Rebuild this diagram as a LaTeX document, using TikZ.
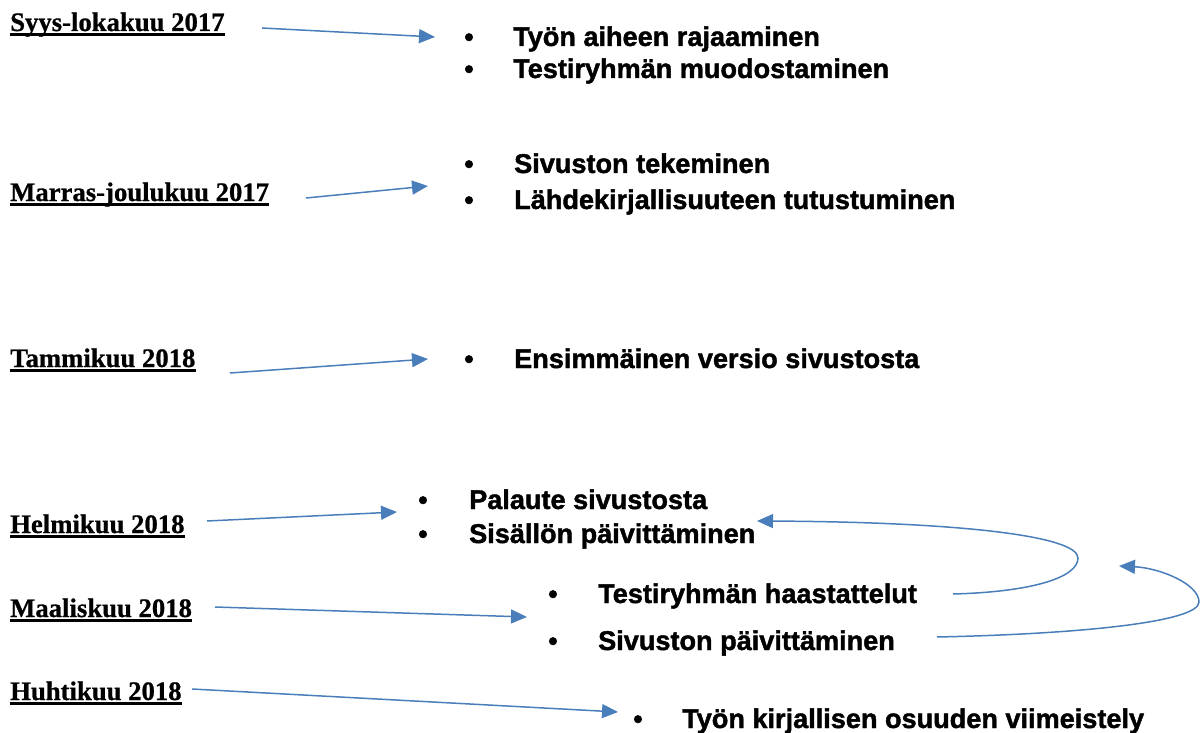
\documentclass[tikz,border=0pt]{standalone}
\usepackage{fontspec}
\setmainfont{Liberation Serif}[BoldFeatures={FakeBold=0.8}]
\newfontfamily\itemfont{Liberation Sans}[BoldFeatures={FakeBold=1.5}]
\usetikzlibrary{arrows.meta}
\definecolor{arrowblue}{HTML}{4A7EBB}
\begin{document}
\begin{tikzpicture}[x=1pt,y=-1pt,
  month/.style={inner sep=0pt, anchor=base west, font=\fontsize{26.7}{30}\selectfont\bfseries},
  item/.style={inner sep=0pt, anchor=base west, font=\fontsize{27.1}{30}\selectfont\itemfont\bfseries},
  dot/.style={inner sep=0pt, anchor=base, font=\fontsize{26.7}{30}\selectfont\itemfont\bfseries},
  link/.style={draw=arrowblue, line width=1.5pt, -{Triangle[length=16pt,width=14pt]}},
  uline/.style={line width=2.6pt}]
\useasboundingbox (0,0) rectangle (1203,733);

% month labels
\node[month] (m1) at (10,31) {Syys-lokakuu 2017};
\node[month] (m2) at (10,201) {Marras-joulukuu 2017};
\node[month] (m3) at (10,367) {Tammikuu 2018};
\node[month] (m4) at (10,533) {Helmikuu 2018};
\node[month] (m5) at (10,617) {Maaliskuu 2018};
\node[month] (m6) at (10,700) {Huhtikuu 2018};
\foreach \m in {m1,m2,m3,m4,m5,m6}
  \draw[uline] ([yshift=-3.5pt]\m.base west) -- ([yshift=-3.5pt]\m.base east);

% items
\node[dot] (b1a) at (469,46) {•};
\node[item] (i1a) at (513,46) {Työn aiheen rajaaminen};
\node[dot] (b1b) at (469,78) {•};
\node[item] (i1b) at (513,78) {Testiryhmän muodostaminen};

\node[dot] (b2a) at (469,173) {•};
\node[item] (i2a) at (514,173) {Sivuston tekeminen};
\node[dot] (b2b) at (469,209) {•};
\node[item] (i2b) at (514,209) {Lähdekirjallisuuteen tutustuminen};

\node[dot] (b3a) at (469,368) {•};
\node[item] (i3a) at (514,368) {Ensimmäinen versio sivustosta};

\node[dot] (b4a) at (423,509) {•};
\node[item] (i4a) at (469,509) {Palaute sivustosta};
\node[dot] (b4b) at (423,543) {•};
\node[item] (i4b) at (469,543) {Sisällön päivittäminen};

\node[dot] (b5a) at (553,603) {•};
\node[item] (i5a) at (598,603) {Testiryhmän haastattelut};
\node[dot] (b5b) at (553,650) {•};
\node[item] (i5b) at (598,650) {Sivuston päivittäminen};

\node[dot] (b6a) at (638,728) {•};
\node[item] (i6a) at (682,728) {Työn kirjallisen osuuden viimeistely};

% arrow end points
\coordinate (s1) at (262,28);  \coordinate (t1) at (435,37);
\coordinate (s2) at (306,198); \coordinate (t2) at (428,186);
\coordinate (s3) at (230,373); \coordinate (t3) at (428,359);
\coordinate (s4) at (207,521); \coordinate (t4) at (397,512);
\coordinate (s5) at (215,607); \coordinate (t5) at (527,617);
\coordinate (s6) at (192,689); \coordinate (t6) at (618,712);
\coordinate (l1s) at (953,594); \coordinate (l1m) at (1078,558); \coordinate (l1t) at (757,521);
\coordinate (l2s) at (937,637); \coordinate (l2m) at (1199,602); \coordinate (l2t) at (1119,566);

\draw[link] (s1) -- (t1);
\draw[link] (s2) -- (t2);
\draw[link] (s3) -- (t3);
\draw[link] (s4) -- (t4);
\draw[link] (s5) -- (t5);
\draw[link] (s6) -- (t6);

\draw[link] (l1s) .. controls (1030,592) and (1078,578) .. (l1m)
  .. controls (1078,536) and (960,522) .. (l1t);
\draw[link] (l2s) .. controls (1080,634) and (1199,622) .. (l2m)
  .. controls (1199,584) and (1160,568) .. (l2t);
\end{tikzpicture}
\end{document}
